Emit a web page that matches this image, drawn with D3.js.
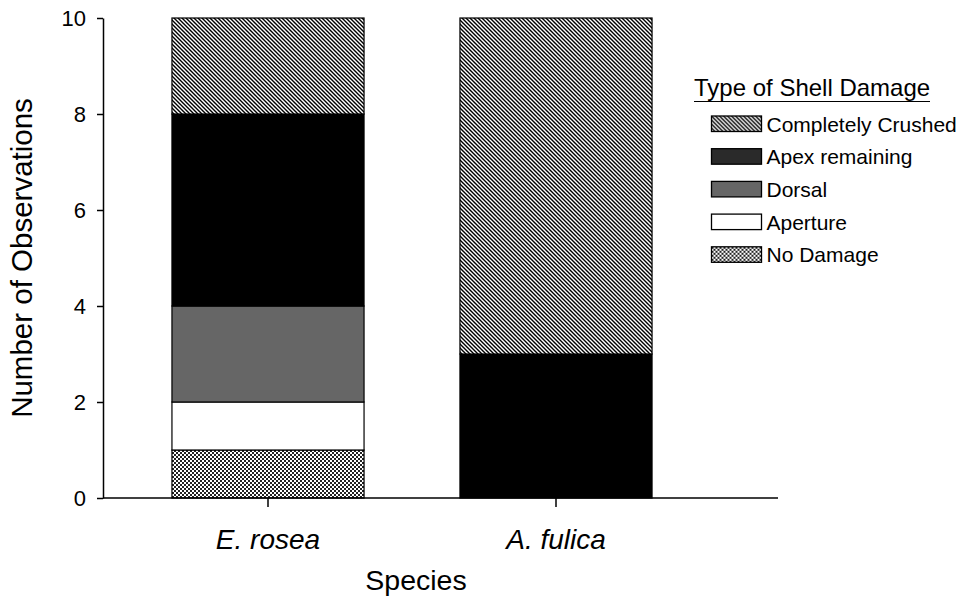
<!DOCTYPE html>
<html>
<head>
<meta charset="utf-8">
<script src="https://cdn.jsdelivr.net/npm/d3@7"></script>
<style>
  body { margin: 0; background: #fff; }
  text { font-family: "Liberation Sans", Arial, sans-serif; fill: #000; }
</style>
</head>
<body>
<div id="chart"></div>
<script>
// categories and stacked values (bottom to top)
const species = ["E. rosea", "A. fulica"];
const damageTypes = ["No Damage", "Aperture", "Dorsal", "Apex remaining", "Completely Crushed"];
const noDamage = [1, 0];
const aperture = [1, 0];
const dorsal = [2, 0];
const apexRemaining = [4, 3];
const completelyCrushed = [2, 7];
const yTicks = [0, 2, 4, 6, 8, 10];

const W = 963, H = 599;

const svg = d3.select("#chart").append("svg")
  .attr("width", W).attr("height", H);

const defs = svg.append("defs");

// diagonal hatch for "Completely Crushed"
const hatch = defs.append("pattern")
  .attr("id", "hatch")
  .attr("patternUnits", "userSpaceOnUse")
  .attr("width", 4).attr("height", 4);
hatch.append("rect").attr("width", 4).attr("height", 4).attr("fill", "#fff");
hatch.append("path")
  .attr("d", "M-1,-1 L5,5 M-1,3 L1,5 M3,-1 L5,1")
  .attr("stroke", "#000").attr("stroke-width", 1.4);

// checker for "No Damage"
const checker = defs.append("pattern")
  .attr("id", "checker")
  .attr("patternUnits", "userSpaceOnUse")
  .attr("width", 4).attr("height", 4);
checker.append("rect").attr("width", 4).attr("height", 4).attr("fill", "#fff");
checker.append("rect").attr("width", 2).attr("height", 2).attr("fill", "#222");
checker.append("rect").attr("x", 2).attr("y", 2).attr("width", 2).attr("height", 2).attr("fill", "#222");

const fills = {
  "No Damage": "url(#checker)",
  "Aperture": "#fff",
  "Dorsal": "#666",
  "Apex remaining": "#000",
  "Completely Crushed": "url(#hatch)"
};
const legendFills = Object.assign({}, fills, { "Apex remaining": "#2a2a2a" });

const table = species.map((s, i) => ({
  species: s,
  "No Damage": noDamage[i],
  "Aperture": aperture[i],
  "Dorsal": dorsal[i],
  "Apex remaining": apexRemaining[i],
  "Completely Crushed": completelyCrushed[i]
}));

const stacked = d3.stack().keys(damageTypes)(table);

const x = d3.scaleBand().domain(species).range([124, 700]).paddingInner(0.333).paddingOuter(0.1665);
const y = d3.scaleLinear().domain([0, 10]).range([498, 18]);

// bars
svg.append("g").selectAll("g")
  .data(stacked)
  .join("g")
  .attr("fill", d => fills[d.key])
  .selectAll("rect")
  .data(d => d.filter(p => p[1] > p[0]))
  .join("rect")
  .attr("x", d => x(d.data.species))
  .attr("y", d => y(d[1]))
  .attr("width", x.bandwidth())
  .attr("height", d => y(d[0]) - y(d[1]))
  .attr("stroke", "#000")
  .attr("stroke-width", 1.2);

// y axis
const yAxis = svg.append("g")
  .attr("transform", "translate(103,0)")
  .call(d3.axisLeft(y).tickValues(yTicks).tickSize(6).tickSizeOuter(0));
yAxis.select(".domain").attr("stroke-width", 1.5);
yAxis.selectAll(".tick line").attr("stroke-width", 1.5);
yAxis.selectAll("text").style("font-size", "22px").attr("x", -17).attr("dy", "0.36em");

// x axis
const xAxis = svg.append("g")
  .attr("transform", "translate(0,498)")
  .call(d3.axisBottom(x).tickSize(9).tickSizeOuter(0));
xAxis.select(".domain").remove();
xAxis.append("line").attr("x1", 103).attr("x2", 778).attr("stroke", "#000").attr("stroke-width", 1.5);
xAxis.selectAll(".tick line").attr("stroke-width", 1.5);
xAxis.selectAll(".tick text")
  .style("font-size", "28px").style("font-style", "italic")
  .attr("y", 51).attr("dy", 0);

// axis titles
svg.append("text")
  .attr("transform", "translate(32,258) rotate(-90)")
  .attr("text-anchor", "middle")
  .style("font-size", "29.5px")
  .text("Number of Observations");

svg.append("text")
  .attr("x", 416).attr("y", 590)
  .attr("text-anchor", "middle")
  .style("font-size", "28.5px")
  .text("Species");

// legend
const legend = svg.append("g").attr("transform", "translate(694,0)");
legend.append("text")
  .attr("x", 0).attr("y", 96)
  .style("font-size", "24px")
  .text("Type of Shell Damage");
legend.append("line")
  .attr("x1", 0).attr("x2", 236).attr("y1", 101.5).attr("y2", 101.5)
  .attr("stroke", "#000").attr("stroke-width", 1.2);

const legendOrder = damageTypes.slice().reverse();
const row = legend.selectAll(".row")
  .data(legendOrder)
  .join("g")
  .attr("class", "row")
  .attr("transform", (d, i) => `translate(17.5,${116 + i * 32.7})`);
row.append("rect")
  .attr("width", 50).attr("height", 15.5)
  .attr("fill", d => legendFills[d])
  .attr("stroke", "#000").attr("stroke-width", 1.3);
row.append("text")
  .attr("x", 55).attr("y", 8).attr("dy", "0.36em")
  .style("font-size", "21px")
  .text(d => d);
</script>
</body>
</html>
